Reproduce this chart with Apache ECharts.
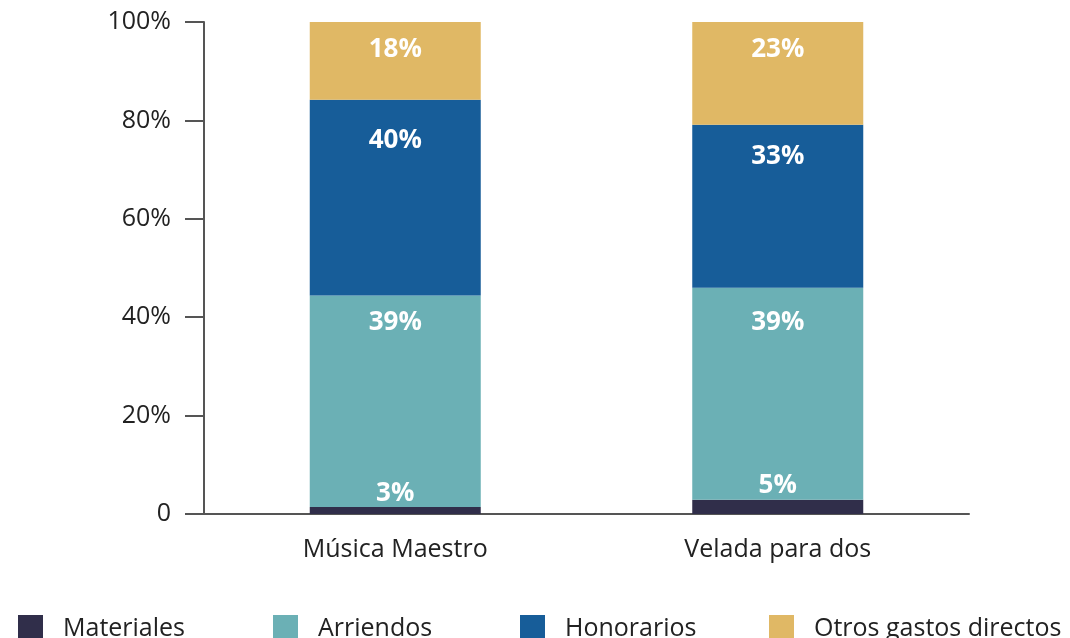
<!DOCTYPE html>
<html>
<head>
<meta charset="utf-8">
<script src="https://cdn.jsdelivr.net/npm/echarts@6/dist/echarts.min.js"></script>
<style>
html, body { margin: 0; padding: 0; background: #fff; }
#main { width: 1070px; height: 638px; }
</style>
</head>
<body>
<div id="main"></div>
<script>
var categories = ['Música Maestro', 'Velada para dos'];
var seriesNames = ['Materiales', 'Arriendos', 'Honorarios', 'Otros gastos directos'];
// altura dibujada de cada tramo (%)
var materiales = [1.4, 2.9];
var arriendos = [43.0, 43.1];
var honorarios = [39.8, 33.1];
var otros = [15.8, 20.9];
// texto impreso sobre cada tramo
var materialesLabels = ['3%', '5%'];
var arriendosLabels = ['39%', '39%'];
var honorariosLabels = ['40%', '33%'];
var otrosLabels = ['18%', '23%'];
var yTicks = [0, 20, 40, 60, 80, 100];

var colors = ['#302e4a', '#6bb0b5', '#175d99', '#e0b865'];
var font = 'Open Sans';

var myChart = echarts.init(document.getElementById('main'));

// distances: label offset per bar (px)
function barSeries(name, data, labels, color, position, distances) {
  return {
    name: name,
    type: 'bar',
    stack: 'total',
    barWidth: 171,
    data: data.map(function (v, i) {
      return { value: v, label: { distance: distances[i] } };
    }),
    itemStyle: { color: color },
    emphasis: { disabled: true },
    label: {
      show: true,
      position: position,
      color: '#fff',
      fontFamily: font,
      fontWeight: 'bold',
      fontSize: 26,
      formatter: function (p) { return labels[p.dataIndex]; }
    }
  };
}

var legendLeft = [13, 268, 515, 764];

var option = {
  animation: false,
  grid: { left: 204, right: 101, top: 22, bottom: 124 },
  legend: seriesNames.map(function (n, i) {
    return {
      data: [n],
      left: legendLeft[i],
      top: 610,
      icon: 'rect',
      itemWidth: 25,
      itemHeight: 28,
      selectedMode: false,
      textStyle: { fontFamily: font, fontSize: 25, color: '#222', padding: [0, 0, 0, 15] }
    };
  }),
  xAxis: {
    type: 'category',
    data: categories,
    axisLine: { lineStyle: { color: '#555', width: 2 } },
    axisTick: { show: false },
    axisLabel: { fontFamily: font, fontSize: 25, color: '#222', margin: 23 }
  },
  yAxis: {
    type: 'value',
    min: yTicks[0],
    max: yTicks[yTicks.length - 1],
    interval: yTicks[1] - yTicks[0],
    splitLine: { show: false },
    axisLine: { show: true, lineStyle: { color: '#555', width: 2 } },
    axisTick: { show: true, length: 19, lineStyle: { color: '#555', width: 2 } },
    axisLabel: {
      fontFamily: font, fontSize: 25, color: '#222', margin: 33,
      formatter: function (v) { return v === 0 ? '0' : v + '%'; }
    }
  },
  series: [
    barSeries(seriesNames[0], materiales, materialesLabels, colors[0], 'top', [1, 1]),
    barSeries(seriesNames[1], arriendos, arriendosLabels, colors[1], 'insideTop', [14, 22]),
    barSeries(seriesNames[2], honorarios, honorariosLabels, colors[2], 'insideTop', [28, 19]),
    barSeries(seriesNames[3], otros, otrosLabels, colors[3], 'insideTop', [15, 15])
  ]
};
myChart.setOption(option);
</script>
</body>
</html>
